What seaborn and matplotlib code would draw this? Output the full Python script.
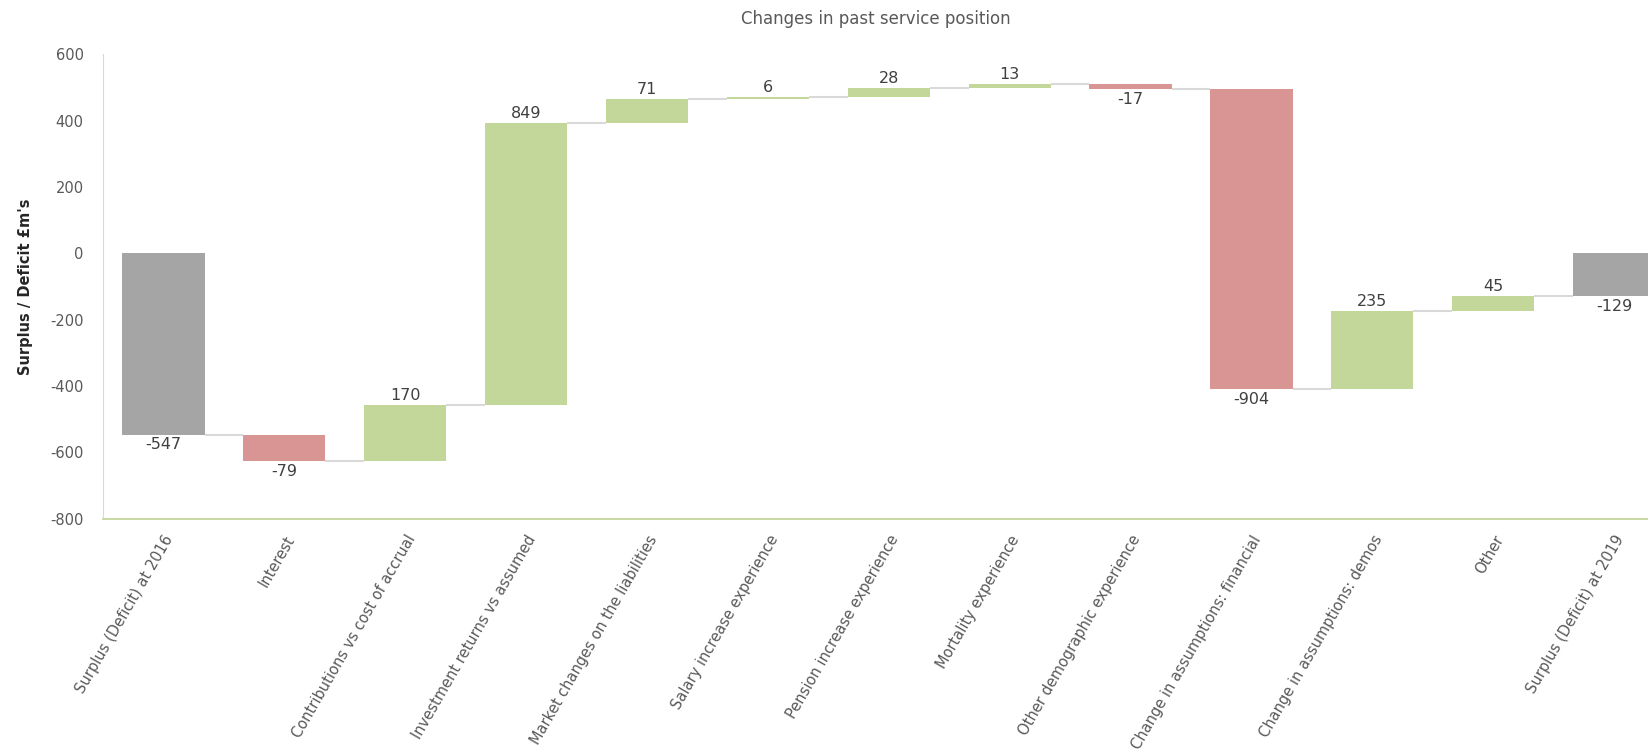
import numpy as np
import matplotlib.pyplot as plt
import matplotlib as mpl
import seaborn as sns
import pandas as pd

'''Waterfall of changes in past service position'''

steps = ['Surplus (Deficit) at 2016', 'Interest', 'Contributions vs cost of accrual',
         'Investment returns vs assumed', 'Market changes on the liabilities',
         'Salary increase experience', 'Pension increase experience',
         'Mortality experience', 'Other demographic experience',
         'Change in assumptions: financial', 'Change in assumptions: demos',
         'Other', 'Surplus (Deficit) at 2019']
changes = [-547, -79, 170, 849, 71, 6, 28, 13, -17, -904, 235, 45, -129]
kinds = ['total', 'dec', 'inc', 'inc', 'inc', 'inc', 'inc', 'inc', 'dec',
         'dec', 'inc', 'inc', 'total']

colors = {'total': '#A5A5A5', 'dec': '#D99594', 'inc': '#C4D79B'}

sns.set_style('white')
plt.rcParams['font.family'] = ['DejaVu Sans']
plt.rcParams['axes.unicode_minus'] = False

# running base for each bar
base = []
ends = []
run = 0
for v, k in zip(changes, kinds):
    if k == 'total':
        base.append(0)
        run = v
    else:
        base.append(run)
        run = run + v
    ends.append(run)

df = pd.DataFrame({'step': steps, 'change': changes, 'base': base, 'kind': kinds})

fig = plt.figure(figsize=(16.48, 7.54), dpi=100)
ax = fig.add_axes([0.0625, 0.312, 0.9375, 0.616])

w = 0.68
sns.barplot(data=df, x='step', y='change', bottom=df['base'].values,
            width=w, color='#A5A5A5', ax=ax, errorbar=None)
for p, k in zip(ax.patches, kinds):
    p.set_facecolor(colors[k])
    p.set_edgecolor('none')

# connectors
for i in range(len(steps) - 1):
    ax.hlines(ends[i], i + w / 2, i + 1 - w / 2, color='#D9D9D9', lw=1.5, zorder=0)

# value labels
for i, (v, b) in enumerate(zip(changes, base)):
    if v >= 0:
        ax.text(i, b + v + 6, str(v), ha='center', va='bottom', fontsize=11.5, color='#404040')
    else:
        ax.text(i, b + v - 8, str(v), ha='center', va='top', fontsize=11.5, color='#404040')

ax.set_ylim(-800, 600)
ax.set_yticks(np.arange(-800, 601, 200))
ax.set_xlim(-0.5, 12.28)
ax.tick_params(axis='y', labelsize=10.5, labelcolor='#595959', length=0, pad=14)
ax.tick_params(axis='x', labelsize=10.5, labelcolor='#595959', length=0, pad=10)
plt.setp(ax.get_xticklabels(), rotation=60, ha='right', rotation_mode='anchor')

ax.set_xlabel('')
ax.set_ylabel("Surplus / Deficit £m's", fontsize=10.5, fontweight='bold', color='#262626', labelpad=12)
ax.set_title('Changes in past service position', fontsize=12, color='#595959', pad=22)

for s in ['top', 'right']:
    ax.spines[s].set_visible(False)
ax.spines['left'].set_color('#D9D9D9')
ax.spines['bottom'].set_color('#C4D79B')
ax.spines['bottom'].set_linewidth(1.3)

plt.savefig('out.png', dpi=100)
